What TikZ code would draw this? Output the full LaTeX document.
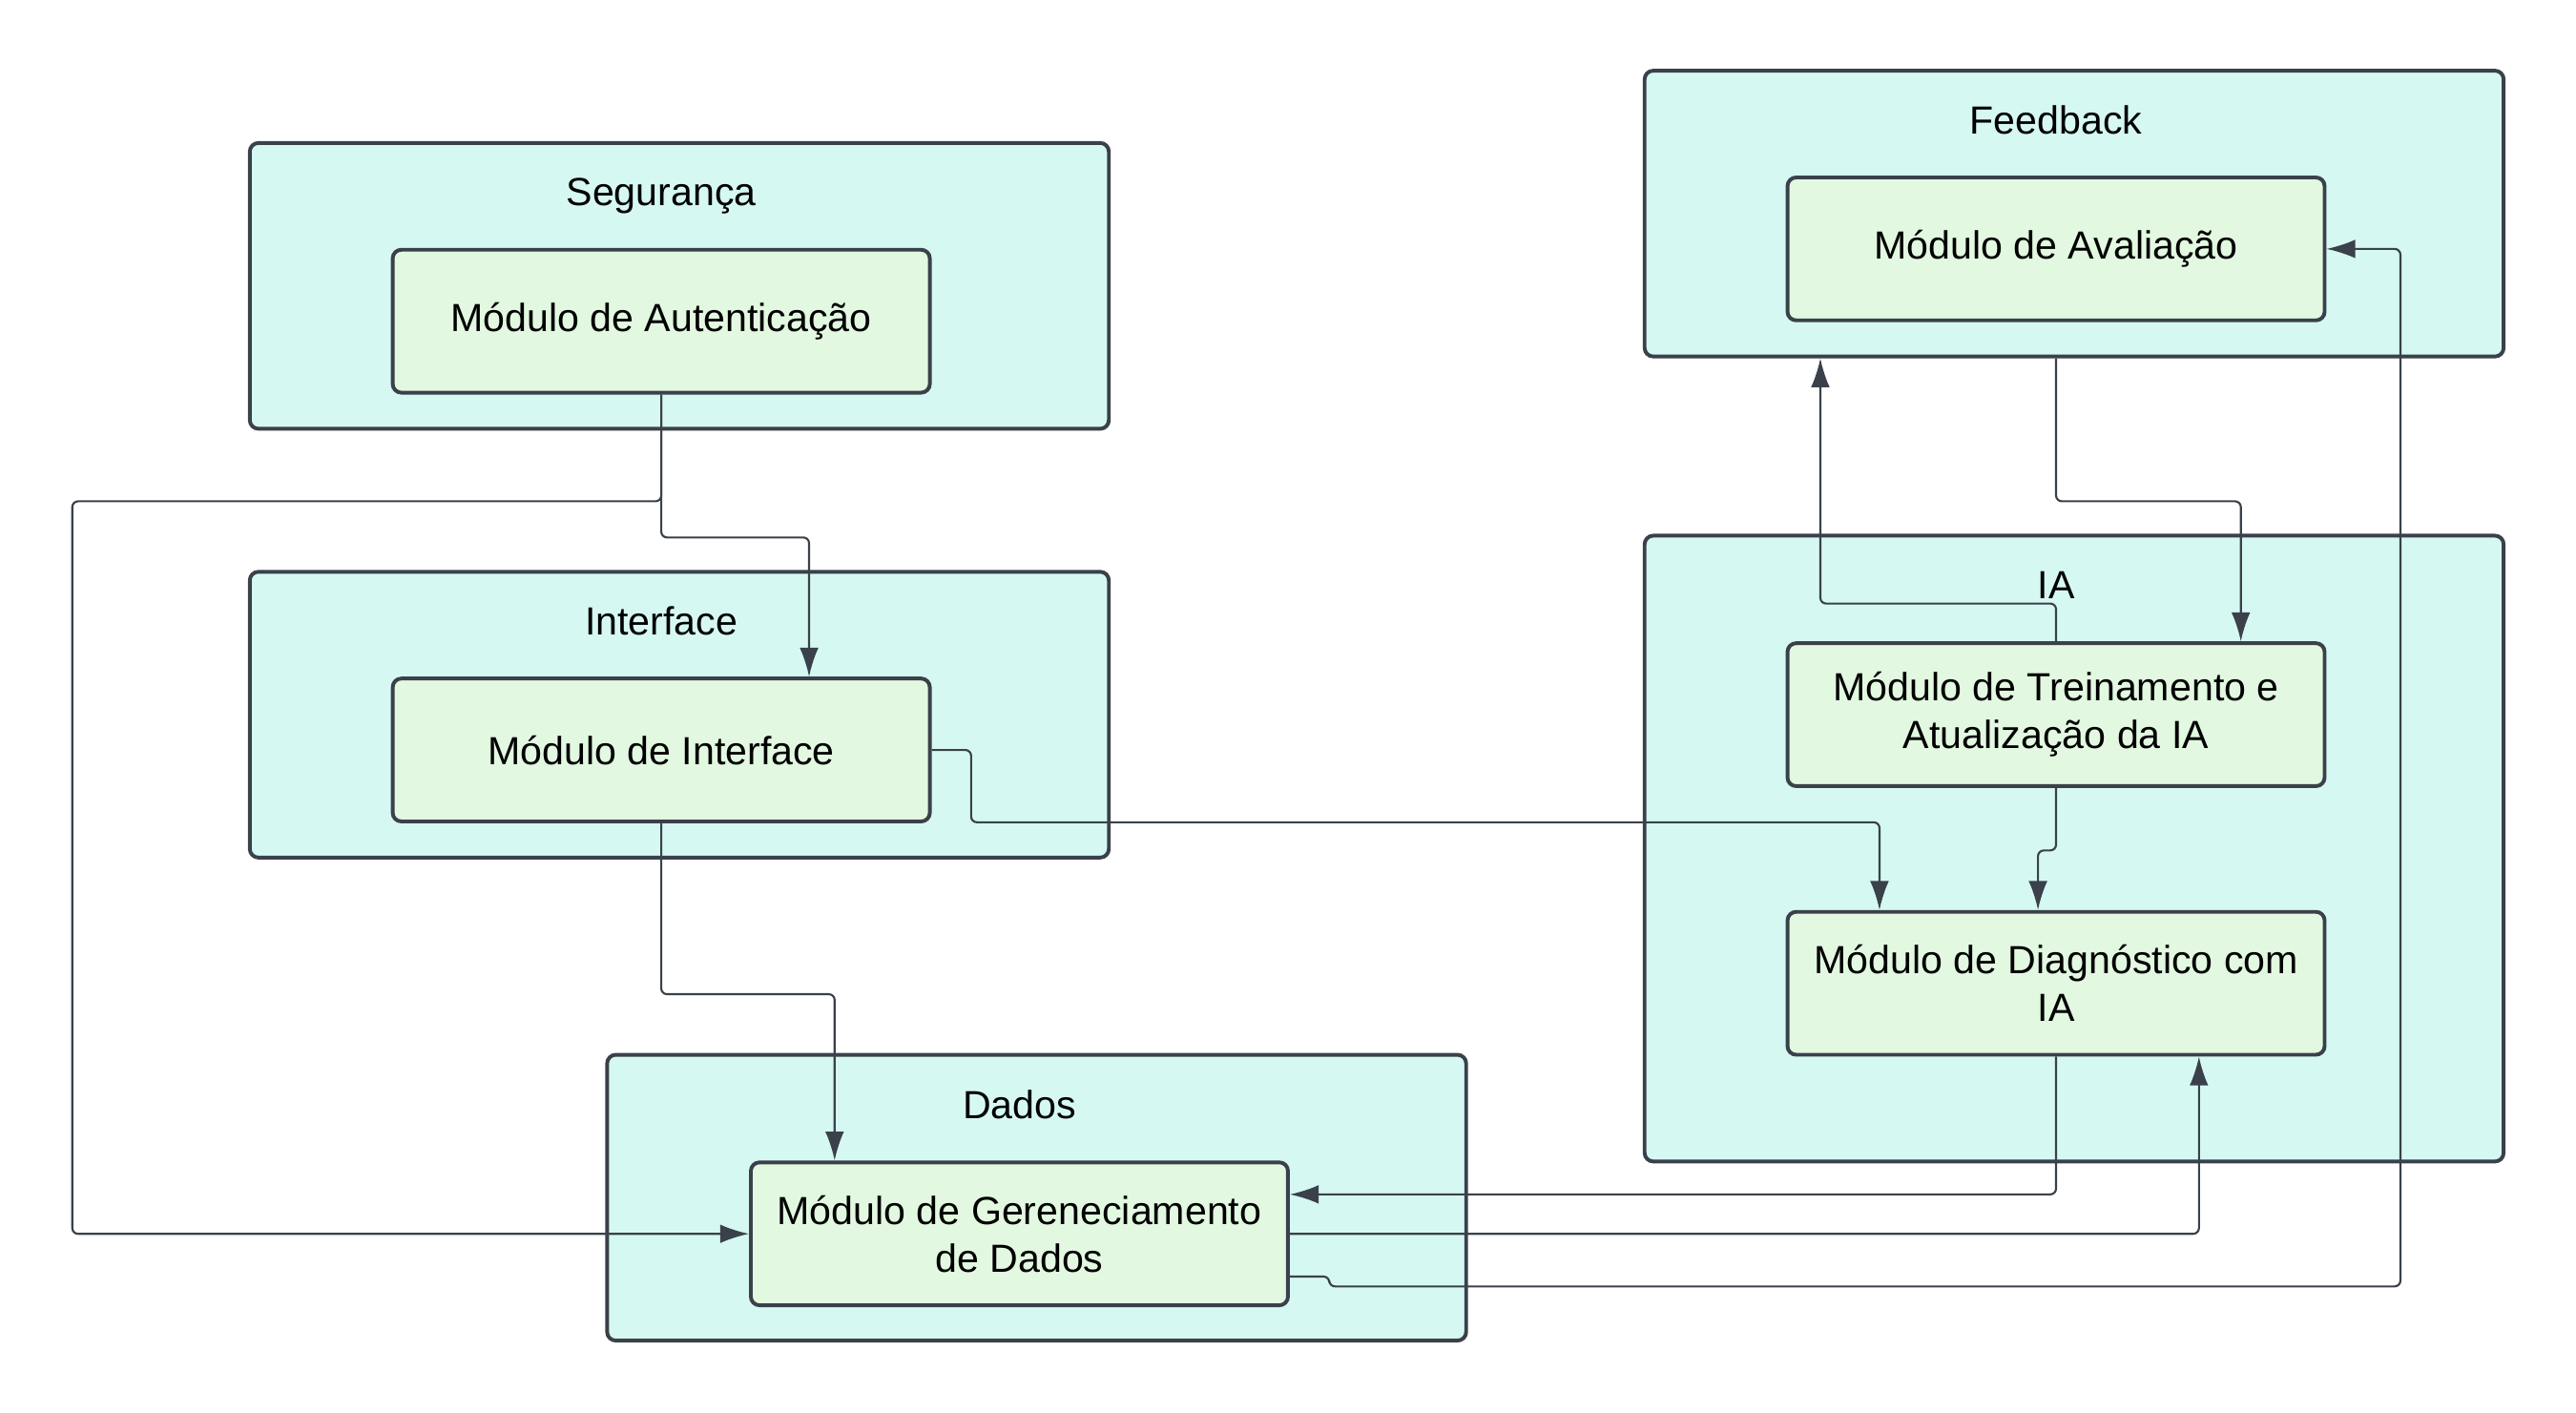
\documentclass[tikz,border=0pt]{standalone}
\usepackage{fontspec}
\setmainfont{Liberation Sans}
\usetikzlibrary{arrows.meta, calc}

\definecolor{borda}{HTML}{3A414A}
\definecolor{fundoGrupo}{HTML}{D6F8F2}
\definecolor{fundoModulo}{HTML}{E2F8E1}

\tikzset{
  grupo/.style={draw=borda, fill=fundoGrupo, line width=1.3pt, rounded corners=3pt,
    minimum width=10.46cm, minimum height=3.48cm, inner sep=0pt},
  modulo/.style={draw=borda, fill=fundoModulo, line width=1.3pt, rounded corners=3pt,
    minimum width=6.54cm, minimum height=1.74cm, align=center, inner sep=0pt,
    font=\fontsize{13.6}{16.5}\selectfont},
  titulo/.style={font=\fontsize{13.6}{16.5}\selectfont, inner sep=0pt, text depth=0pt},
  liga/.style={draw=borda, line width=0.7pt, rounded corners=2pt,
    -{Latex[length=10pt,width=6.5pt]}}
}

\begin{document}
\begin{tikzpicture}[x=0.02cm, y=-0.02cm]
        \useasboundingbox (0,0) rectangle (1568,860);
        % grupos
        \node[grupo] (seg)  at (413.5,174) {};
        \node[grupo] (int)  at (413.5,435) {};
        \node[grupo] (dad)  at (631,729) {};
        \node[grupo] (feed) at (1262.5,130) {};
        \node[grupo, minimum height=7.62cm] (ia) at (1262.5,516.5) {};
        \node[titulo] (tseg)  at (402.5,117) {Segurança};
        \node[titulo] (tint)  at (402.5,378) {Interface};
        \node[titulo] (tdad)  at (620.5,672) {Dados};
        \node[titulo] (tfeed) at (1251.5,73) {Feedback};
        \node[titulo] (tia)   at (1251.5,356) {IA};
        % modulos
        \node[modulo] (aut)  at (402.5,195.5) {Módulo de Autenticação};
        \node[modulo] (intm) at (402.5,456.5) {Módulo de Interface};
        \node[modulo] (ger)  at (620.5,751) {Módulo de Gereneciamento\\de Dados};
        \node[modulo] (aval) at (1251.5,151.5) {Módulo de Avaliação};
        \node[modulo] (trei) at (1251.5,435) {Módulo de Treinamento e\\Atualização da IA};
        \node[modulo] (diag) at (1251.5,598.5) {Módulo de Diagnóstico com\\IA};
        % ligacoes
        \draw[liga] (aut.south) -- ++(0,87) -| ([xshift=1.8cm]intm.north);
        \draw[liga] (aut.south) -- ++(0,65) -- ++(-358.5,0) |- (ger.west);
        \draw[liga] (intm.east) -- ++(24,0) -- ++(0,44) -| ([xshift=-2.15cm]diag.north);
        \draw[liga] (intm.south) -- ++(0,104) -| ([xshift=-2.25cm]ger.north);
        \draw[liga] (aval.south |- feed.south) -- ++(0,87) -| ([xshift=2.25cm]trei.north);
        \draw[liga] (trei.north) -- ++(0,-23) -| ([xshift=-3.09cm]feed.south);
        \draw[liga] (trei.south) -- ++(0,38) -| ([xshift=-0.22cm]diag.north);
        \draw[liga] (diag.south) |- ($(ger.east)+(0,-24)$);
        \draw[liga] (ger.east) -| ([xshift=1.74cm]diag.south);
        \draw[liga] ($(ger.east)+(0,26)$) -- ++(24,0) -- ++(0,6) -- ++(652,0) |- (aval.east);
\end{tikzpicture}
\end{document}
